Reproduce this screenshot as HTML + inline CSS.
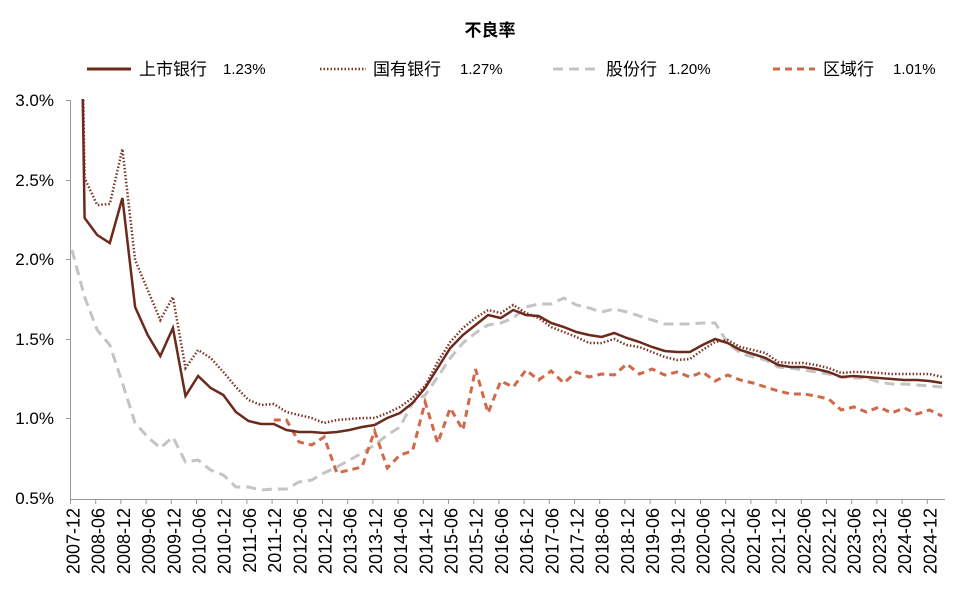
<!DOCTYPE html>
<html><head><meta charset="utf-8"><style>
body{margin:0;background:#fff;}
svg text{font-family:"Liberation Sans","Noto Sans CJK SC",sans-serif;}
</style></head><body>
<svg width="965" height="601" viewBox="0 0 965 601" xmlns="http://www.w3.org/2000/svg">
<defs><clipPath id="c"><rect x="70" y="99" width="880" height="401"/></clipPath></defs>
<text x="490" y="36" text-anchor="middle" font-size="17" font-weight="bold" fill="#000">不良率</text>
<line x1="87" y1="69" x2="131" y2="69" stroke="#6b2a1c" stroke-width="3"/>
<text x="139" y="75" font-size="17">上市银行</text><text x="223" y="74" font-size="15">1.23%</text>
<line x1="320" y1="69" x2="366" y2="69" stroke="#7a3525" stroke-width="2.5" stroke-dasharray="1.5,2"/>
<text x="373" y="75" font-size="17">国有银行</text><text x="460" y="74" font-size="15">1.27%</text>
<line x1="553" y1="69" x2="598" y2="69" stroke="#c4c4c4" stroke-width="3" stroke-dasharray="10,6"/>
<text x="606" y="75" font-size="17">股份行</text><text x="668" y="74" font-size="15">1.20%</text>
<line x1="773" y1="69" x2="815" y2="69" stroke="#d0694a" stroke-width="3" stroke-dasharray="7,5"/>
<text x="823" y="75" font-size="17">区域行</text><text x="893" y="74" font-size="15">1.01%</text>
<g font-size="17" text-anchor="end" fill="#000">
<text x="54" y="106">3.0%</text><text x="54" y="186">2.5%</text><text x="54" y="265">2.0%</text>
<text x="54" y="345">1.5%</text><text x="54" y="424">1.0%</text><text x="54" y="504">0.5%</text>
</g>
<g stroke="#999" stroke-width="1">
<line x1="70.5" y1="100" x2="70.5" y2="499"/><line x1="70" y1="499.5" x2="945" y2="499.5"/>
<line x1="66" y1="100.5" x2="70" y2="100.5"/><line x1="66" y1="180.5" x2="70" y2="180.5"/>
<line x1="66" y1="259.5" x2="70" y2="259.5"/><line x1="66" y1="339.5" x2="70" y2="339.5"/>
<line x1="66" y1="418.5" x2="70" y2="418.5"/>
<g id="ticks"></g>
</g>
<g id="xl" font-size="18"></g>
<g clip-path="url(#c)" fill="none">
<polyline id="gr" stroke="#c4c4c4" stroke-width="3" stroke-dasharray="10,6"/>
<polyline id="rd" stroke="#d0694a" stroke-width="3" stroke-dasharray="7,5"/>
<polyline id="dt" stroke="#7a3525" stroke-width="2.5" stroke-dasharray="1.5,2"/>
<polyline id="sl" stroke="#6b2a1c" stroke-width="2.5"/>
</g>
</svg>
<script>
var NS="http://www.w3.org/2000/svg";
var sl=[-600,218,235,243,198,307,335,356,328,396,376,388,395,412,421,424,424,430,432,432,433,432,430,427,425,418,413,403,388,368,348,335,325,315,318,310,315,316,323,327,332,335,337,333,338,342,347,351,352,352,345,339,343,350,354,358,365,367,367,369,372,377,376,377,378,379,380,380,381,383];
var dt=[-600,178,205,204,149,260,290,320,297,368,350,358,372,387,400,405,404,412,415,418,423,420,419,418,418,413,407,398,386,362,342,328,318,310,313,305,313,318,327,332,337,343,343,339,345,347,352,357,360,359,350,342,340,347,350,353,362,363,363,365,368,373,372,372,373,374,374,374,374,377];
var gr=[250,297,330,345,383,423,437,448,437,462,460,470,475,487,487,490,489,489,482,480,473,467,460,453,445,435,427,403,395,377,358,343,333,325,323,318,307,304,304,298,305,308,312,309,312,316,320,324,324,324,323,323,343,353,357,360,367,368,370,372,374,377,378,378,382,384,384,385,386,387];
var rd={16:420,17:420,18:442,19:445,20:437,21:473,22:470,23:467,24:431,25:468,26:455,27:451,28:402,29:443,30:408,31:430,32:369,33:413,34:381,35:387,36:370,37:380,38:371,39:383,40:372,41:377,42:374,43:375,44:364,45:374,46:369,47:375,48:372,49:377,50:372,51:381,52:375,53:380,54:383,55:387,56:391,57:394,58:394,59:396,60:399,61:410,62:407,63:412,64:407,65:413,66:408,67:414,68:410,69:416};
function X(i){return 72+12.61*i;}
function pts(a){var s=[];for(var i=0;i<a.length;i++)s.push(X(i).toFixed(1)+","+a[i]);return s.join(" ");}
document.getElementById("sl").setAttribute("points",pts(sl));
document.getElementById("dt").setAttribute("points",pts(dt));
document.getElementById("gr").setAttribute("points",pts(gr));
var r=[];for(var k in rd)r.push(X(+k).toFixed(1)+","+rd[k]);
document.getElementById("rd").setAttribute("points",r.join(" "));
var tk=document.getElementById("ticks"),xl=document.getElementById("xl");
for(var k=0;k<35;k++){
 var x=70.5+25.2*k;
 var l=document.createElementNS(NS,"line");l.setAttribute("x1",x);l.setAttribute("x2",x);l.setAttribute("y1",499);l.setAttribute("y2",504);tk.appendChild(l);
 var yr=2007+Math.floor((k+1)/2), m=(k%2==0)?"12":"06";
 var t=document.createElementNS(NS,"text");var cx=x+9;
 t.setAttribute("transform","translate("+cx+",508) rotate(-90)");t.setAttribute("text-anchor","end");
 t.textContent=yr+"-"+m;xl.appendChild(t);
}
</script>
</body></html>
